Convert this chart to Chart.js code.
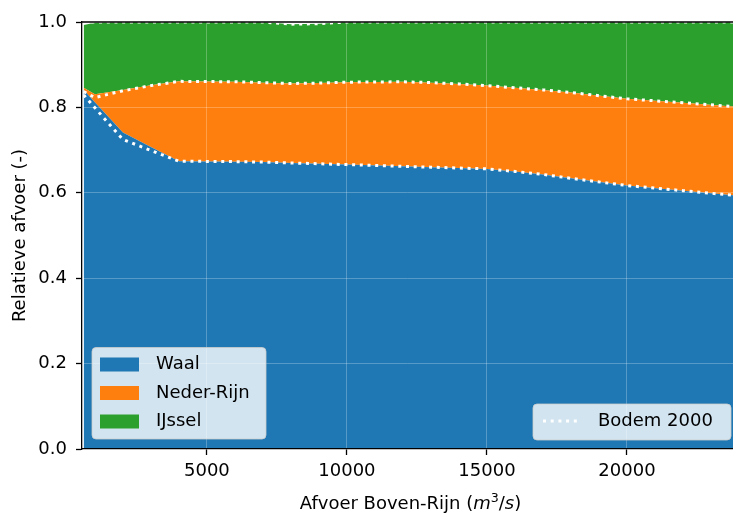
<!DOCTYPE html>
<html>
<head>
<meta charset="utf-8">
<script src="https://cdn.jsdelivr.net/npm/chart.js@4"></script>
<style>
  html, body { margin: 0; padding: 0; background: #fff; }
  canvas { display: block; }
</style>
</head>
<body>
<canvas id="chart" width="733" height="514"></canvas>
<script>
// afvoer Boven-Rijn (m3/s)
const afvoer = [600, 1000, 2000, 3000, 4000, 6000, 7000, 8000, 9000, 10000, 12000, 13000, 14000, 15000, 16000, 17000, 18000, 20000, 22000, 24000];

// relatieve afvoer per tak
const waal      = [0.841, 0.812, 0.741, 0.707, 0.674, 0.673, 0.672, 0.670, 0.668, 0.666, 0.662, 0.660, 0.658, 0.656, 0.650, 0.643, 0.634, 0.617, 0.605, 0.593];
const nederRijn = [0.005, 0.019, 0.100, 0.145, 0.187, 0.187, 0.186, 0.186, 0.189, 0.193, 0.198, 0.198, 0.197, 0.195, 0.196, 0.198, 0.201, 0.203, 0.206, 0.208];
const ijssel    = [0.147, 0.167, 0.159, 0.148, 0.139, 0.140, 0.142, 0.139, 0.139, 0.141, 0.140, 0.142, 0.145, 0.149, 0.154, 0.159, 0.165, 0.180, 0.189, 0.199];

// referentie: bodem 2000
const bodemWaal      = [0.829, 0.799, 0.725, 0.699, 0.674, 0.673, 0.672, 0.670, 0.668, 0.666, 0.662, 0.660, 0.658, 0.656, 0.650, 0.643, 0.634, 0.617, 0.605, 0.593];
const bodemNederRijn = [0.008, 0.024, 0.114, 0.152, 0.187, 0.187, 0.186, 0.186, 0.189, 0.193, 0.198, 0.198, 0.197, 0.195, 0.196, 0.198, 0.201, 0.203, 0.206, 0.208];
const bodemIjssel    = [0.163, 0.177, 0.161, 0.149, 0.139, 0.140, 0.142, 0.139, 0.139, 0.141, 0.140, 0.142, 0.145, 0.149, 0.154, 0.159, 0.165, 0.180, 0.189, 0.199];

const xTicks = [5000, 10000, 15000, 20000];
const yTicks = [0, 0.2, 0.4, 0.6, 0.8, 1.0];
const xRange = [540, 23786];

// x-as titel, stukjes: [tekst, stijl]
const xTitle = [["Afvoer Boven-Rijn (", "n"], ["m", "i"], ["3", "sup"], ["/", "n"], ["s", "i"], [")", "n"]];

const FONT = "DejaVu Sans";

function cumulative(...parts) {
    return afvoer.map((q, i) => ({ x: q, y: parts.reduce((s, p) => s + p[i], 0) }));
}

function areaSet(label, color, data, fill) {
    return {
        label: label,
        data: data,
        borderWidth: 0,
        borderColor: color,
        backgroundColor: color,
        fill: fill,
        pointRadius: 0,
        tension: 0,
        clip: 0
    };
}

function bodemLine(label, data) {
    return {
        label: label,
        data: data,
        borderColor: "#ffffff",
        borderWidth: 3,
        borderDash: [3, 4.7],
        borderCapStyle: "butt",
        fill: false,
        pointRadius: 0,
        tension: 0,
        clip: 0
    };
}

function drawFrame(ctx, x, y, w, h) {
    ctx.beginPath();
    ctx.roundRect(x, y, w, h, 4);
    ctx.fillStyle = "rgba(255,255,255,0.8)";
    ctx.fill();
    ctx.lineWidth = 1;
    ctx.strokeStyle = "rgba(204,204,204,0.8)";
    ctx.stroke();
}

function partFont(style) {
    if (style === "i") return "italic 18px '" + FONT + "'";
    if (style === "sup") return "12.6px '" + FONT + "'";
    return "18px '" + FONT + "'";
}

const extras = {
    id: "extras",
    afterDraw(chart) {
        const ctx = chart.ctx;
        const a = chart.chartArea;
        ctx.save();

        // top spine
        ctx.strokeStyle = "#000";
        ctx.lineWidth = 1.3;
        ctx.beginPath();
        ctx.moveTo(a.left, a.top);
        ctx.lineTo(a.right, a.top);
        ctx.stroke();

        // x title with math part
        let total = 0;
        xTitle.forEach(([t, s]) => { ctx.font = partFont(s); total += ctx.measureText(t).width; });
        let tx = (a.left + a.right) / 2 + 3 - total / 2;
        const ty = chart.height - 5;
        ctx.fillStyle = "#000";
        ctx.textBaseline = "alphabetic";
        xTitle.forEach(([t, s]) => {
            ctx.font = partFont(s);
            ctx.fillText(t, tx, s === "sup" ? ty - 7 : ty);
            tx += ctx.measureText(t).width;
        });

        ctx.font = "18px '" + FONT + "'";
        ctx.textBaseline = "middle";

        // legend for the areas (lower left)
        const rivers = chart.data.datasets.filter(d => d.fill !== false);
        const rowH = 28.5;
        const h1 = rivers.length * rowH + 6;
        const x1 = a.left + 10;
        const y1 = a.bottom - 10 - h1;
        drawFrame(ctx, x1, y1, 174, h1);
        rivers.forEach((d, i) => {
            const cy = y1 + 17 + i * rowH;
            ctx.fillStyle = d.backgroundColor;
            ctx.fillRect(x1 + 8, cy - 7, 39, 14);
            ctx.fillStyle = "#000";
            ctx.fillText(d.label, x1 + 64, cy);
        });

        // legend for the reference line (lower right)
        const ref = chart.data.datasets.find(d => d.fill === false && d.label);
        const w2 = 198, h2 = 36;
        const x2 = a.right - 2 - w2;
        const y2 = a.bottom - 9 - h2;
        drawFrame(ctx, x2, y2, w2, h2);
        ctx.strokeStyle = ref.borderColor;
        ctx.lineWidth = ref.borderWidth;
        ctx.setLineDash(ref.borderDash);
        ctx.beginPath();
        ctx.moveTo(x2 + 10, y2 + 17);
        ctx.lineTo(x2 + 45, y2 + 17);
        ctx.stroke();
        ctx.setLineDash([]);
        ctx.fillStyle = "#000";
        ctx.fillText(ref.label, x2 + 65, y2 + 17);

        ctx.restore();
    }
};

const gridStyle = {
    z: 1,
    color: "rgba(255,255,255,0.25)",
    tickColor: "#000",
    tickLength: 6,
    tickWidth: 1.3
};

new Chart(document.getElementById("chart"), {
    type: "line",
    data: {
        datasets: [
            areaSet("Waal", "#1f77b4", cumulative(waal), "origin"),
            areaSet("Neder-Rijn", "#ff7f0e", cumulative(waal, nederRijn), "-1"),
            areaSet("IJssel", "#2ca02c", cumulative(waal, nederRijn, ijssel), "-1"),
            bodemLine("Bodem 2000", cumulative(bodemWaal)),
            bodemLine("", cumulative(bodemWaal, bodemNederRijn)),
            bodemLine("", cumulative(bodemWaal, bodemNederRijn, bodemIjssel))
        ]
    },
    options: {
        responsive: false,
        animation: false,
        layout: {
            padding: { top: 22, right: 0, left: 0, bottom: 0 }
        },
        plugins: {
            legend: { display: false },
            tooltip: { enabled: false },
            filler: { drawTime: "beforeDatasetsDraw" }
        },
        scales: {
            x: {
                type: "linear",
                min: xRange[0],
                max: xRange[1],
                afterBuildTicks: scale => { scale.ticks = xTicks.map(v => ({ value: v })); },
                afterFit: scale => { scale.height = 65; },
                ticks: {
                    color: "#000",
                    font: { family: FONT, size: 18 },
                    padding: 6,
                    maxRotation: 0,
                    callback: value => String(value)
                },
                grid: gridStyle,
                border: { color: "#000", width: 1.3, z: 2 }
            },
            y: {
                type: "linear",
                min: 0,
                max: 1,
                afterBuildTicks: scale => { scale.ticks = yTicks.map(v => ({ value: v })); },
                afterFit: scale => { scale.width = 82; },
                ticks: {
                    color: "#000",
                    font: { family: FONT, size: 18 },
                    padding: 9,
                    callback: value => value.toFixed(1)
                },
                grid: gridStyle,
                border: { color: "#000", width: 1.3, z: 2 },
                title: {
                    display: true,
                    text: "Relatieve afvoer (-)",
                    color: "#000",
                    font: { family: FONT, size: 18 },
                    padding: { top: 10, bottom: 0 }
                }
            }
        }
    },
    plugins: [extras]
});
</script>
</body>
</html>
